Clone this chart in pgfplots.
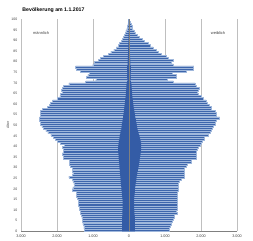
\documentclass[border=0pt]{standalone}
\usepackage{pgfplots}
\usepackage{pgfplotstable}
\usepackage{fontspec}
\setmainfont{Liberation Sans}
\pgfplotsset{compat=1.18}
\definecolor{barblue}{RGB}{62,102,172}
\definecolor{baredge}{RGB}{160,184,220}
\definecolor{darkblue}{RGB}{52,92,166}
\definecolor{gridgray}{RGB}{191,191,191}
\definecolor{axgray}{RGB}{128,128,128}
\definecolor{txtgray}{RGB}{64,64,64}

\pgfplotstableread{
age m f dm df
0 -1240 1110 -190 160
1 -1250 1130 -190 160
2 -1250 1150 -190 160
3 -1280 1180 -190 160
4 -1290 1200 -190 160
5 -1300 1240 -190 160
6 -1310 1270 -190 160
7 -1320 1270 -185 155
8 -1340 1340 -185 150
9 -1340 1320 -185 150
10 -1370 1330 -180 145
11 -1370 1330 -180 140
12 -1400 1340 -180 140
13 -1410 1350 -180 140
14 -1400 1330 -180 140
15 -1430 1350 -185 145
16 -1460 1340 -190 150
17 -1460 1350 -195 155
18 -1470 1340 -200 160
19 -1580 1380 -210 165
20 -1560 1360 -215 170
21 -1520 1380 -220 175
22 -1530 1380 -225 185
23 -1560 1410 -230 195
24 -1570 1440 -235 205
25 -1670 1530 -240 215
26 -1580 1530 -245 225
27 -1560 1530 -250 235
28 -1580 1530 -255 245
29 -1580 1530 -260 255
30 -1620 1580 -265 265
31 -1650 1620 -270 275
32 -1650 1730 -275 285
33 -1650 1740 -280 295
34 -1820 1870 -285 305
35 -1820 1870 -290 315
36 -1860 1870 -295 325
37 -1830 1880 -300 330
38 -1820 1900 -300 335
39 -1840 1920 -300 340
40 -1790 1990 -295 340
41 -1900 2010 -290 335
42 -1980 2040 -280 325
43 -2040 2100 -270 310
44 -2100 2100 -260 295
45 -2170 2200 -250 280
46 -2250 2260 -240 265
47 -2310 2300 -230 250
48 -2370 2320 -215 235
49 -2420 2330 -205 220
50 -2450 2400 -195 210
51 -2460 2400 -185 200
52 -2480 2420 -175 190
53 -2480 2520 -165 180
54 -2470 2420 -160 170
55 -2460 2420 -150 160
56 -2450 2410 -145 150
57 -2400 2300 -135 140
58 -2260 2290 -130 130
59 -2220 2240 -120 120
60 -2180 2180 -115 115
61 -2120 2140 -110 110
62 -1980 2060 -100 100
63 -1920 2000 -95 95
64 -1900 1920 -90 90
65 -1850 1900 -85 85
66 -1880 1930 -80 80
67 -1860 1940 -75 75
68 -1820 1880 -70 70
69 -1670 1840 -65 65
70 -1200 1230 -50 50
71 -920 1070 -40 40
72 -1180 1320 -50 50
73 -1140 1320 -50 45
74 -1100 1210 -45 45
75 -1350 1600 -50 50
76 -1470 1800 -50 50
77 -1480 1800 -50 50
78 -1000 1230 -40 40
79 -950 1180 -35 35
80 -860 1230 -35 35
81 -800 1100 -30 30
82 -700 1040 -30 30
83 -580 900 -25 25
84 -500 820 -25 25
85 -420 760 -22 22
86 -350 670 -20 20
87 -300 600 -18 18
88 -260 530 -15 15
89 -215 435 -12 12
90 -185 360 -10 10
91 -150 300 -8 8
92 -120 230 -8 8
93 -100 180 -6 6
94 -85 140 -5 5
95 -60 100 -4 4
96 -50 80 -3 3
97 -30 60 -2 2
98 -20 35 -1 1
99 -10 20 -1 1
}\pyr

\begin{document}
\begin{tikzpicture}
\path[use as bounding box] (-21bp,-9.7bp) rectangle (232bp,231.3bp);
\begin{axis}[
  at={(0,0)}, anchor=south west,
  scale only axis, width=216bp, height=212bp,
  xmin=-3000, xmax=3000, ymin=0, ymax=100,
  xtick={-3000,-2000,-1000,0,1000,2000,3000},
  xticklabels={3.000,2.000,1.000,0,1.000,2.000,3.000},
  ytick={0,5,...,100},
  /pgf/number format/assume math mode=true,
  xmajorgrids, major grid style={gridgray, line width=0.6bp},
  axis x line*=bottom, axis y line*=left,
  x axis line style={axgray, line width=0.9bp, -},
  y axis line style={draw=none},
  major tick length=0pt,
  xticklabel style={font=\fontsize{3.8}{4}\selectfont, text=txtgray, inner sep=0pt, yshift=-3.8bp},
  yticklabel style={font=\fontsize{3.5}{4}\selectfont, text=txtgray, inner sep=0pt, xshift=-3.5bp},
]
\addplot[xbar, bar width=0.95, bar shift=0pt, fill=barblue, draw=baredge, line width=0.6bp]
  table[x=m, y expr=\thisrow{age}+0.5]{\pyr};
\addplot[xbar, bar width=0.95, bar shift=0pt, fill=barblue, draw=baredge, line width=0.6bp]
  table[x=f, y expr=\thisrow{age}+0.5]{\pyr};
\addplot[xbar, bar width=1.0, bar shift=0pt, fill=darkblue, draw=none]
  table[x=dm, y expr=\thisrow{age}+0.5]{\pyr};
\addplot[xbar, bar width=1.0, bar shift=0pt, fill=darkblue, draw=none]
  table[x=df, y expr=\thisrow{age}+0.5]{\pyr};
\draw[axgray, line width=0.9bp] (axis cs:0,0) -- (axis cs:0,100);
\end{axis}
\node[anchor=base west, inner sep=0pt, font=\fontsize{5.2}{6}\selectfont\bfseries] at (1.3bp,219.3bp) {Bevölkerung am 1.1.2017};
\node[inner sep=0pt, font=\fontsize{4}{5}\selectfont, text=txtgray] at (20bp,198bp) {männlich};
\node[inner sep=0pt, font=\fontsize{4}{5}\selectfont, text=txtgray] at (197bp,198bp) {weiblich};
\node[inner sep=0pt, rotate=90, font=\fontsize{3.5}{4}\selectfont, text=txtgray] at (-13bp,106bp) {Alter};
\end{tikzpicture}
\end{document}
